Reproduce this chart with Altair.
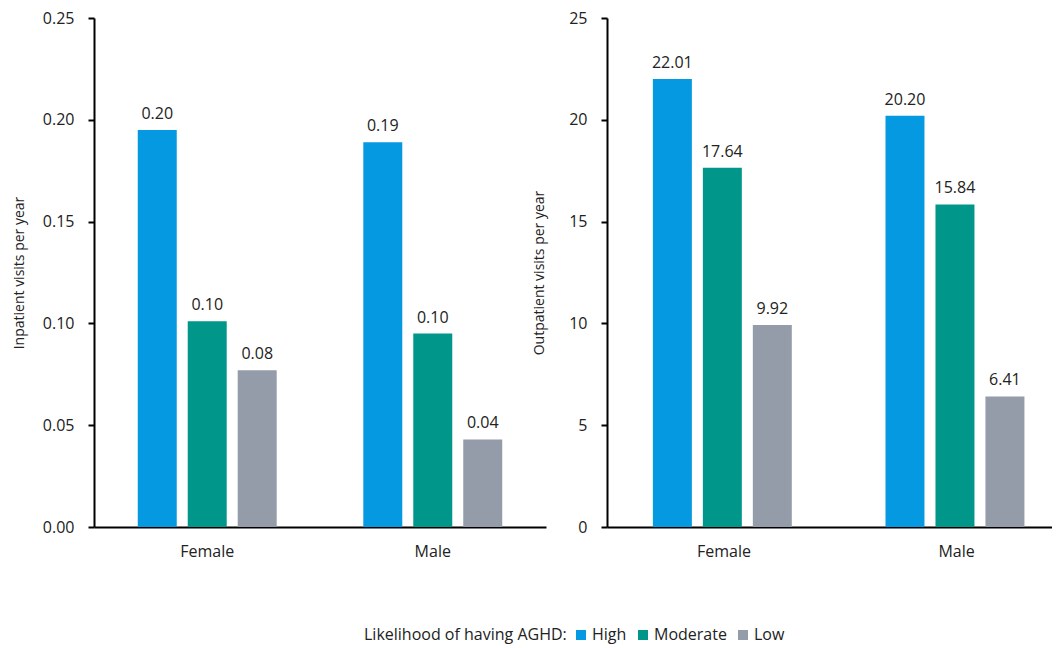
import altair as alt
import pandas as pd

sex = ["Female", "Male"]
likelihood = ["High", "Moderate", "Low"]
colors = ["#0499E1", "#00968A", "#939CA8"]

inpatient = [0.195, 0.101, 0.077, 0.189, 0.095, 0.043]
inpatient_labels = ["0.20", "0.10", "0.08", "0.19", "0.10", "0.04"]
inpatient_ticks = [0, 0.05, 0.10, 0.15, 0.20, 0.25]

outpatient = [22.01, 17.64, 9.92, 20.20, 15.84, 6.41]
outpatient_labels = ["22.01", "17.64", "9.92", "20.20", "15.84", "6.41"]
outpatient_ticks = [0, 5, 10, 15, 20, 25]

FONT = "Open Sans"


def make_df(values, labels):
    rows = []
    i = 0
    for s in sex:
        for l in likelihood:
            rows.append({"sex": s, "likelihood": l, "value": values[i], "label": labels[i]})
            i += 1
    return pd.DataFrame(rows)


def panel(df, title, ticks, fmt, pI, pO, align, width, title_pad):
    base = alt.Chart(df).encode(
        x=alt.X(
            "sex:N",
            sort=sex,
            title=None,
            scale=alt.Scale(paddingInner=pI, paddingOuter=pO, align=align),
            axis=alt.Axis(
                labelAngle=0, ticks=False, domainColor="black", domainWidth=2,
                labelPadding=16, labelFontSize=16, labelColor="#222", labelFont=FONT,
            ),
        ),
        xOffset=alt.XOffset(
            "likelihood:N", sort=likelihood,
            scale=alt.Scale(paddingInner=0.22, paddingOuter=0),
        ),
        y=alt.Y(
            "value:Q",
            scale=alt.Scale(domain=[ticks[0], ticks[-1]], nice=False),
            axis=alt.Axis(
                title=title, values=ticks, format=fmt, grid=False,
                domainColor="black", domainWidth=2, tickColor="black", tickWidth=2,
                tickSize=6, labelPadding=14, labelFontSize=16, labelColor="#222",
                labelFont=FONT, titleFont=FONT, titleFontSize=14, titleFontWeight="normal",
                titleColor="#222", titlePadding=title_pad,
            ),
        ),
    )
    bars = base.mark_bar().encode(
        color=alt.Color(
            "likelihood:N",
            sort=likelihood,
            scale=alt.Scale(domain=likelihood, range=colors),
            legend=alt.Legend(
                title="Likelihood of having AGHD:", orient="none", direction="horizontal",
                titleOrient="left", legendX=270, legendY=609,
                symbolType="square", symbolSize=100, symbolStrokeWidth=0,
                titleFont=FONT, titleFontSize=16, titleFontWeight="normal", titleColor="#222",
                labelFont=FONT, labelFontSize=16, labelColor="#222",
                titleLimit=500, labelLimit=200,
                columnPadding=8, titlePadding=6, labelOffset=3,
            ),
        )
    )
    text = base.mark_text(
        baseline="bottom", dy=-8, fontSize=16, font=FONT, color="#222"
    ).encode(text="label:N")
    return (bars + text).properties(width=width, height=509)


left = panel(make_df(inpatient, inpatient_labels), "Inpatient visits per year",
             inpatient_ticks, ".2f", 0.384, 0.194, 0.5, 452, 16)
right = panel(make_df(outpatient, outpatient_labels), "Outpatient visits per year",
              outpatient_ticks, "d", 0.389, 0.151, 0.653, 445, 22)

chart = alt.hconcat(left, right, spacing=-14).properties(
    padding={"left": 4, "top": 2, "right": 0, "bottom": 6}
).configure_view(stroke=None)

chart.save("out.html", embed_options={"renderer": "svg", "actions": False})
